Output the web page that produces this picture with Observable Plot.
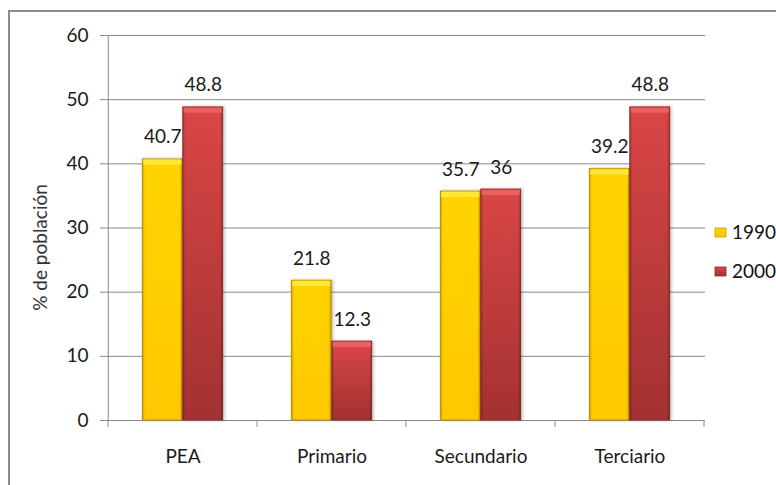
<!DOCTYPE html>
<html>
<head>
<meta charset="utf-8">
<script src="https://cdn.jsdelivr.net/npm/d3@7"></script>
<script src="https://cdn.jsdelivr.net/npm/@observablehq/plot@0.6"></script>
<style>
  html, body { margin: 0; padding: 0; background: #fff; }
  #wrap { position: relative; width: 776px; height: 485px; overflow: hidden; }
  #box { position: absolute; left: 8px; top: 10px; right: -10px; bottom: -10px;
         border-left: 2px solid #8c8c8c; border-top: 2px solid #8c8c8c; }
  #chart { position: absolute; left: 0; top: 0; }
</style>
</head>
<body>
<div id="wrap"><div id="box"></div><div id="chart"></div></div>
<script>
// Población por sector de actividad, 1990 y 2000
const categories = ["PEA", "Primario", "Secundario", "Terciario"];
const years = ["1990", "2000"];
const values1990 = [40.7, 21.8, 35.7, 39.2];
const values2000 = [48.8, 12.3, 36, 48.8];
const yTicks = [0, 10, 20, 30, 40, 50, 60];

const rows = [
  ...categories.map((c, i) => ({category: c, year: "1990", value: values1990[i]})),
  ...categories.map((c, i) => ({category: c, year: "2000", value: values2000[i]}))
];
const r1990 = rows.filter(d => d.year === "1990");
const r2000 = rows.filter(d => d.year === "2000");

const W = 776, H = 485;
const mL = 107, mR = 71, mT = 35, mB = 65;
const band = (W - mL - mR) / categories.length;  // width of one category band
const barW = 40.5;                                // width of one bar
const side = (band - 2 * barW) / 2;               // empty space either side of a pair

const font = "Lato, 'Open Sans', sans-serif";
const fs = 19;

const chart = Plot.plot({
  width: W, height: H,
  marginLeft: mL, marginRight: mR, marginTop: mT, marginBottom: mB,
  style: {fontFamily: font, fontSize: fs + "px", color: "#1a1a1a", background: "transparent"},
  x: {domain: categories, padding: 0, label: null},
  y: {domain: [0, 60], label: null},
  marks: [
    Plot.gridY(yTicks, {stroke: "#8a8a8a", strokeOpacity: 1}),
    Plot.ruleX([categories[0]], {dx: -band / 2, y1: 0, y2: 60, stroke: "#8a8a8a"}),
    Plot.axisY(yTicks, {tickSize: 7, tickPadding: 12, stroke: "#8a8a8a", fill: "#1a1a1a", fontSize: fs}),
    Plot.axisX({tickSize: 0, tickPadding: 29, fill: "#1a1a1a", fontSize: fs}),
    Plot.text(["% de población"], {frameAnchor: "left", textAnchor: "middle", rotate: -90, dx: -67, dy: 19.5,
      fill: "#333", fontSize: fs}),

    // bars
    Plot.barY(r1990, {x: "category", y: "value", fill: "url(#g1990)", insetLeft: side, insetRight: band - side - barW,
      stroke: "#c99a00", strokeWidth: 0.8}),
    Plot.barY(r2000, {x: "category", y: "value", fill: "url(#g2000)", insetLeft: side + barW, insetRight: side,
      stroke: "#8e2a2a", strokeWidth: 0.8}),
    // darker side edges
    Plot.barY(r1990, {x: "category", y: "value", fill: "url(#gEdge)", insetLeft: side, insetRight: band - side - barW}),
    Plot.barY(r2000, {x: "category", y: "value", fill: "url(#gEdge)", insetLeft: side + barW, insetRight: side}),
    // light bevel along the top of each bar
    Plot.tickY(r1990, {x: "category", y: "value", dy: 3, strokeWidth: 5, stroke: "#ffe838",
      insetLeft: side + 1, insetRight: band - side - barW + 1}),
    Plot.tickY(r2000, {x: "category", y: "value", dy: 3, strokeWidth: 5, stroke: "#e86262",
      insetLeft: side + barW + 1, insetRight: side + 1}),

    // value labels
    Plot.text(r1990, {x: "category", y: "value", text: d => String(d.value), dx: -barW / 2, dy: -22,
      fill: "#1a1a1a", fontSize: fs}),
    Plot.text(r2000, {x: "category", y: "value", text: d => String(d.value), dx: barW / 2, dy: -22,
      fill: "#1a1a1a", fontSize: fs})
  ]
});

const svg = d3.select(chart);
const defs = svg.insert("defs", ":first-child");

const g1990 = defs.append("linearGradient").attr("id", "g1990").attr("x1", 0).attr("y1", 0).attr("x2", 0).attr("y2", 1);
g1990.append("stop").attr("offset", 0).attr("stop-color", "#ffd400");
g1990.append("stop").attr("offset", 1).attr("stop-color", "#ffc800");

const g2000 = defs.append("linearGradient").attr("id", "g2000").attr("x1", 0).attr("y1", 0).attr("x2", 0).attr("y2", 1);
g2000.append("stop").attr("offset", 0).attr("stop-color", "#da4646");
g2000.append("stop").attr("offset", 1).attr("stop-color", "#a33131");

const gEdge = defs.append("linearGradient").attr("id", "gEdge").attr("x1", 0).attr("y1", 0).attr("x2", 1).attr("y2", 0);
[[0, 0.22], [0.07, 0], [0.93, 0], [1, 0.25]].forEach(([o, a]) =>
  gEdge.append("stop").attr("offset", o).attr("stop-color", "#000").attr("stop-opacity", a));

// soft shadow beside the bars
const shadow = defs.append("filter").attr("id", "shadow").attr("x", "-20%").attr("y", "-5%")
  .attr("width", "140%").attr("height", "110%");
shadow.append("feDropShadow").attr("dx", 1.5).attr("dy", 0).attr("stdDeviation", 1.5)
  .attr("flood-color", "#000").attr("flood-opacity", 0.25);
svg.selectAll('g[aria-label="bar"]').filter((d, i) => i < 2).attr("filter", "url(#shadow)");

// tick marks on the category axis, at the band boundaries
const xs = chart.scale("x"), ys = chart.scale("y");
const y0 = ys.apply(0);
const bounds = categories.map(c => xs.apply(c)).concat([xs.apply(categories.at(-1)) + xs.bandwidth]);
svg.append("g").selectAll("line").data(bounds).join("line")
  .attr("x1", d => d).attr("x2", d => d).attr("y1", y0).attr("y2", y0 + 7)
  .attr("stroke", "#8a8a8a");

// legend
const legend = svg.append("g").attr("font-family", font).attr("font-size", fs)
  .attr("fill", "#111").attr("text-anchor", "start");
years.forEach((yr, i) => {
  const gy = 228 + i * 39;
  legend.append("rect").attr("x", 715).attr("y", gy).attr("width", 11).attr("height", 9)
    .attr("fill", i === 0 ? "url(#g1990)" : "url(#g2000)")
    .attr("stroke", i === 0 ? "#c99a00" : "#8e2a2a").attr("stroke-width", 0.8);
  legend.append("text").attr("x", 732).attr("y", gy + 4.5).attr("dy", "0.35em").text(yr);
});

document.getElementById("chart").appendChild(chart);
</script>
</body>
</html>
